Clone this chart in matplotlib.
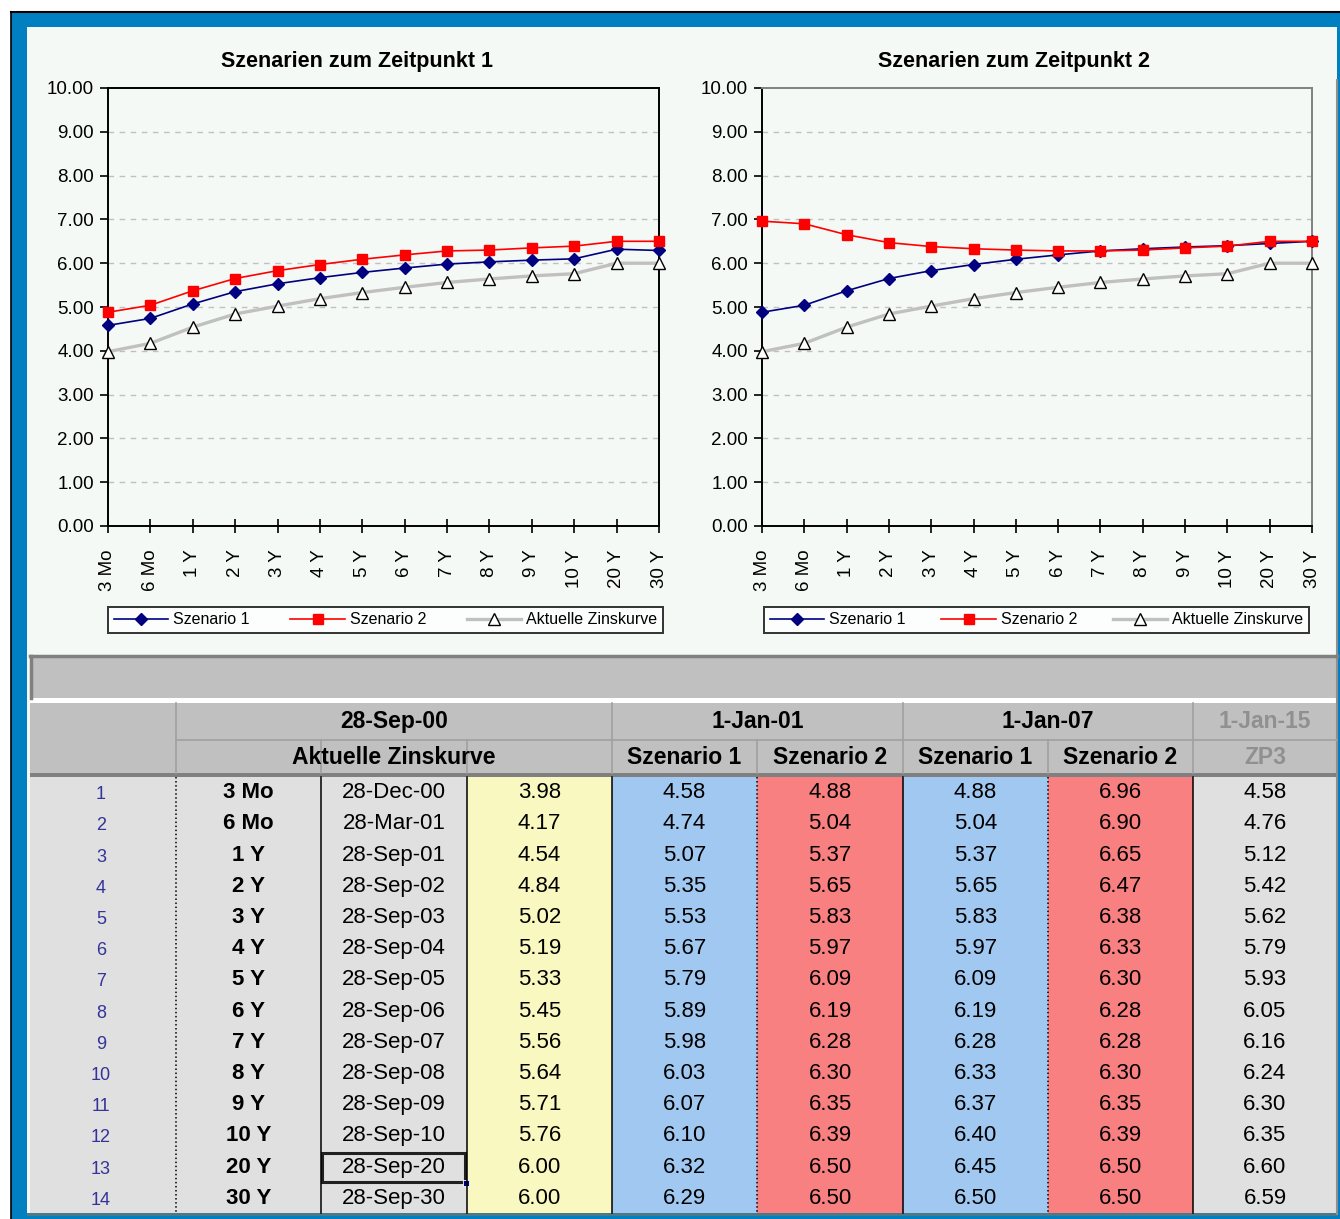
import numpy as np
import matplotlib
matplotlib.use("Agg")
import matplotlib.pyplot as plt
from matplotlib.patches import Rectangle
from matplotlib.lines import Line2D

plt.rcParams["font.family"] = ["Liberation Sans", "DejaVu Sans"]

# ---- data ----
terms = ["3 Mo", "6 Mo", "1 Y", "2 Y", "3 Y", "4 Y", "5 Y", "6 Y", "7 Y", "8 Y", "9 Y", "10 Y", "20 Y", "30 Y"]
dates = ["28-Dec-00", "28-Mar-01", "28-Sep-01", "28-Sep-02", "28-Sep-03", "28-Sep-04", "28-Sep-05",
         "28-Sep-06", "28-Sep-07", "28-Sep-08", "28-Sep-09", "28-Sep-10", "28-Sep-20", "28-Sep-30"]
aktuell = [3.98, 4.17, 4.54, 4.84, 5.02, 5.19, 5.33, 5.45, 5.56, 5.64, 5.71, 5.76, 6.00, 6.00]
zp1_sz1 = [4.58, 4.74, 5.07, 5.35, 5.53, 5.67, 5.79, 5.89, 5.98, 6.03, 6.07, 6.10, 6.32, 6.29]
zp1_sz2 = [4.88, 5.04, 5.37, 5.65, 5.83, 5.97, 6.09, 6.19, 6.28, 6.30, 6.35, 6.39, 6.50, 6.50]
zp2_sz1 = [4.88, 5.04, 5.37, 5.65, 5.83, 5.97, 6.09, 6.19, 6.28, 6.33, 6.37, 6.40, 6.45, 6.50]
zp2_sz2 = [6.96, 6.90, 6.65, 6.47, 6.38, 6.33, 6.30, 6.28, 6.28, 6.30, 6.35, 6.39, 6.50, 6.50]
zp3 = [4.58, 4.76, 5.12, 5.42, 5.62, 5.79, 5.93, 6.05, 6.16, 6.24, 6.30, 6.35, 6.60, 6.59]
head_dates = ["28-Sep-00", "1-Jan-01", "1-Jan-07", "1-Jan-15"]
head_names = ["Aktuelle Zinskurve", "Szenario 1", "Szenario 2", "Szenario 1", "Szenario 2", "ZP3"]

W, H = 1340, 1219
BG = "#F5F9F6"
fig = plt.figure(figsize=(W / 100, H / 100), dpi=100, facecolor="white")

# sheet background, frame and table drawn in pixel coordinates
bg = fig.add_axes([0, 0, 1, 1], zorder=0)
bg.set_xlim(0, W); bg.set_ylim(H, 0); bg.axis("off")

def box(x0, y0, x1, y1, fc, ec="none", lw=0, **kw):
    bg.add_patch(Rectangle((x0, y0), x1 - x0, y1 - y0, facecolor=fc, edgecolor=ec, linewidth=lw, **kw))

box(11, 12, W + 5, H + 5, "#0080C0")
bg.plot([11, W], [12, 12], color="black", lw=1.5)
bg.plot([11, 11], [12, H], color="black", lw=1.2)
box(27, 27, 1337, 1214, BG)
bg.plot([1337, 1337], [80, 1214], color="#909090", lw=1.5)

# gray band
box(30, 655, 1337, 698, "#C0C0C0")
bg.plot([30, 1337], [656, 656], color="#808080", lw=2.5)
bg.plot([31, 31], [656, 698], color="#808080", lw=2.5)
box(30, 698, 1337, 703, "white")

# table
cols = [30, 176, 321, 467, 612, 757, 903, 1048, 1193, 1337]
y_h0, y_h1, y_h2 = 703, 740, 773
y_d0 = 777
rh = (1214 - y_d0) / len(terms)
box(30, y_h0, 1337, y_h2, "#C0C0C0")
for x in cols[1:-1]:
    top = y_h0 if x in (176, 612, 903, 1193) else y_h1
    bg.plot([x, x], [top, y_h2], color="#A0A0A0", lw=1.2)
bg.plot([176, 1337], [y_h1, y_h1], color="#A0A0A0", lw=1.2)
box(30, y_h2, 1337, y_d0, "#808080")

fills = ["#E0E0E0", "#E0E0E0", "#E0E0E0", "#F8F8C0", "#A0C8F0", "#F88080", "#A0C8F0", "#F88080", "#E0E0E0"]
for i, fc in enumerate(fills):
    box(cols[i], y_d0, cols[i + 1], 1214, fc)
box(27, 1213, 1337, 1216, "#4A7A8A")

vstyle = {176: ":", 321: "-", 467: "-", 612: "-", 757: ":", 903: "-", 1048: ":", 1193: "-"}
for x, ls in vstyle.items():
    bg.plot([x, x], [y_d0, 1213], color="black", lw=1.1, ls=ls)

hfont = dict(fontsize=16.5, fontweight="bold", ha="center", va="center", stretch="condensed")
spans1 = [(176, 612), (612, 903), (903, 1193), (1193, 1337)]
for (a, b), t in zip(spans1, head_dates):
    bg.text((a + b) / 2, (y_h0 + y_h1) / 2, t, color="#909090" if t == "1-Jan-15" else "black", **hfont)
spans2 = [(176, 612), (612, 757), (757, 903), (903, 1048), (1048, 1193), (1193, 1337)]
for (a, b), t in zip(spans2, head_names):
    bg.text((a + b) / 2, (y_h1 + y_h2) / 2 + 1, t, color="#909090" if t == "ZP3" else "black", **hfont)

cfont = dict(fontsize=16, ha="center", va="center", color="black")
table_cols = [aktuell, zp1_sz1, zp1_sz2, zp2_sz1, zp2_sz2, zp3]
for r in range(len(terms)):
    yc = y_d0 + rh * (r + 0.5)
    bg.text((cols[0] + cols[1]) / 2 - 2, yc + 2, str(r + 1), fontsize=13, color="#333399", ha="center", va="center")
    bg.text((cols[1] + cols[2]) / 2, yc, terms[r], fontsize=16, fontweight="bold", ha="center", va="center")
    bg.text((cols[2] + cols[3]) / 2, yc, dates[r], **cfont)
    for k, series in enumerate(table_cols):
        bg.text((cols[3 + k] + cols[4 + k]) / 2, yc, f"{series[r]:.2f}", **cfont)

# active cell marker
ys = y_d0 + rh * 12
bg.add_patch(Rectangle((322, ys + 1), 143, rh - 2, fill=False, edgecolor="#202020", linewidth=2.2))
box(463, ys + rh - 3, 469, ys + rh + 3, "#000080", ec="white", lw=0.6)

# ---- charts ----
def chart(rect, title, title_x, s1, s2, spine_col):
    ax = fig.add_axes(rect, zorder=2)
    ax.set_facecolor(BG)
    x = np.arange(len(terms))
    ax.plot(x, aktuell, color="#C0C0C0", lw=2.4, marker="^", ms=8, mfc="white", mec="black", mew=1.0,
            zorder=3, clip_on=False)
    ax.plot(x, s1, color="#000080", lw=1.2, marker="D", ms=6, mfc="#000080", mec="#000080",
            zorder=4, clip_on=False)
    ax.plot(x, s2, color="#FF0000", lw=1.2, marker="s", ms=7, mfc="#FF0000", mec="#FF0000",
            zorder=5, clip_on=False)
    ax.set_xlim(0, len(terms) - 1)
    ax.set_ylim(0, 10)
    ax.set_yticks(np.arange(0, 11, 1))
    ax.set_yticklabels([f"{v:.2f}" for v in np.arange(0, 11, 1)], fontsize=13.5)
    ax.set_xticks(x)
    ax.set_xticklabels(terms, rotation=90, fontsize=13.5)
    ax.tick_params(axis="y", direction="out", length=6, width=1.2, pad=4)
    ax.tick_params(axis="x", direction="inout", length=10, width=1.2, pad=12)
    for v in range(1, 10):
        ax.axhline(v, color="#C0C0C0", lw=1.0, ls=(0, (4, 4)), zorder=1)
    for s in ("left", "bottom"):
        ax.spines[s].set_color("black"); ax.spines[s].set_linewidth(1.4)
    for s in ("top", "right"):
        ax.spines[s].set_color(spine_col); ax.spines[s].set_linewidth(1.4)
    bg.text(title_x, 62, title, fontsize=15.5, fontweight="bold", ha="center", va="center")
    return ax

def px(x0, y0, x1, y1):
    return [x0 / W, 1 - y1 / H, (x1 - x0) / W, (y1 - y0) / H]

ax1 = chart(px(108, 88, 659, 526), "Szenarien zum Zeitpunkt 1", 357, zp1_sz1, zp1_sz2, "black")
ax2 = chart(px(762, 88, 1312, 526), "Szenarien zum Zeitpunkt 2", 1014, zp2_sz1, zp2_sz2, "#808080")

handles = [
    Line2D([], [], color="#000080", lw=1.2, marker="D", ms=6, mfc="#000080"),
    Line2D([], [], color="#FF0000", lw=1.2, marker="s", ms=7, mfc="#FF0000"),
    Line2D([], [], color="#C0C0C0", lw=2.4, marker="^", ms=8, mfc="white", mec="black"),
]
labels = ["Szenario 1", "Szenario 2", "Aktuelle Zinskurve"]
for (x0, x1) in [(108, 663), (764, 1309)]:
    lg = fig.legend(handles, labels, ncol=3, loc="center", bbox_to_anchor=px(x0, 604, x1, 636),
                    mode="expand", borderaxespad=0, fontsize=11.5, frameon=True, fancybox=False,
                    handlelength=3.4, handletextpad=0.3, borderpad=0.35, columnspacing=1.2)
    lg.get_frame().set_edgecolor("black"); lg.get_frame().set_linewidth(1.4)
    lg.get_frame().set_facecolor("white")

fig.savefig("out.png", dpi=100, facecolor="white")
